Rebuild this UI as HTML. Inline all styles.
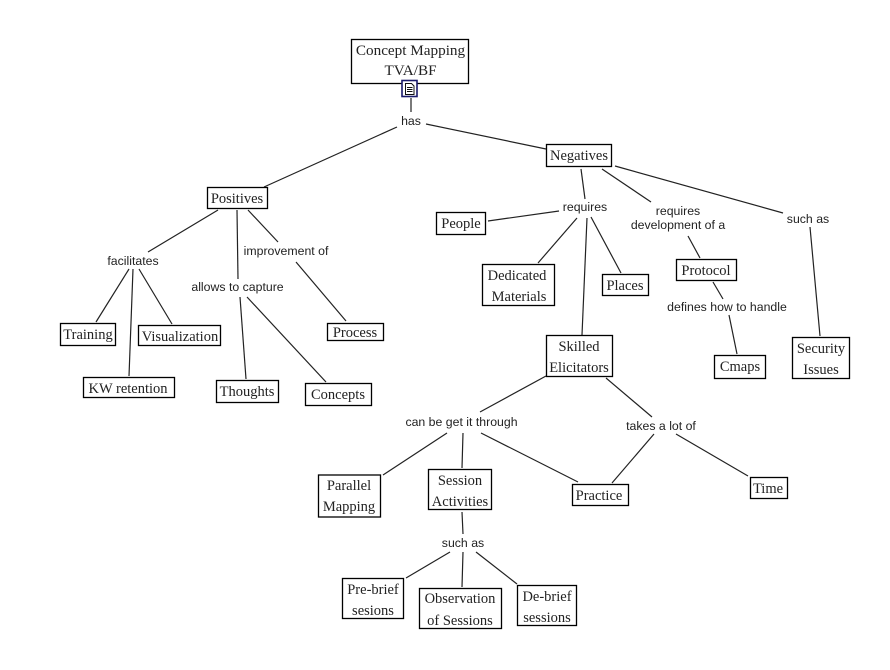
<!DOCTYPE html>
<html><head><meta charset="utf-8"><style>
html,body{margin:0;padding:0;background:#fff}
svg{display:block}
.n{font-family:"Liberation Serif",serif;font-size:14.5px;fill:#222;text-anchor:middle}
.l{font-family:"Liberation Sans",sans-serif;font-size:12.3px;fill:#222;text-anchor:middle}
rect{fill:#fff;stroke:#000;stroke-width:1.3}
line{stroke:#222;stroke-width:1.2}
</style></head><body>
<svg width="890" height="670" viewBox="0 0 890 670" xmlns="http://www.w3.org/2000/svg">
<line x1="411" y1="98" x2="411" y2="112"/>
<line x1="397" y1="127" x2="264" y2="187"/>
<line x1="426" y1="124" x2="546" y2="149"/>
<line x1="218" y1="210" x2="148" y2="252"/>
<line x1="237" y1="210" x2="238" y2="279"/>
<line x1="248" y1="210" x2="278" y2="242"/>
<line x1="296" y1="262" x2="346" y2="321"/>
<line x1="129" y1="269" x2="96" y2="322"/>
<line x1="133" y1="269" x2="129" y2="376"/>
<line x1="139" y1="269" x2="172" y2="324"/>
<line x1="240" y1="297" x2="246" y2="379"/>
<line x1="247" y1="297" x2="326" y2="382"/>
<line x1="581" y1="169" x2="585" y2="199"/>
<line x1="602" y1="169" x2="651" y2="202"/>
<line x1="615" y1="166" x2="783" y2="213"/>
<line x1="559" y1="211" x2="488" y2="221"/>
<line x1="577" y1="218" x2="538" y2="263"/>
<line x1="587" y1="218" x2="582" y2="335"/>
<line x1="591" y1="217" x2="621" y2="273"/>
<line x1="688" y1="236" x2="700" y2="258"/>
<line x1="713" y1="282" x2="723" y2="299"/>
<line x1="729" y1="315" x2="737" y2="354"/>
<line x1="810" y1="227" x2="820" y2="336"/>
<line x1="546" y1="376" x2="480" y2="412"/>
<line x1="606" y1="378" x2="652" y2="417"/>
<line x1="447" y1="433" x2="383" y2="475"/>
<line x1="463" y1="433" x2="462" y2="468"/>
<line x1="481" y1="433" x2="578" y2="482"/>
<line x1="654" y1="434" x2="612" y2="483"/>
<line x1="676" y1="434" x2="748" y2="476"/>
<line x1="462" y1="512" x2="463" y2="534"/>
<line x1="450" y1="552" x2="406" y2="578"/>
<line x1="463" y1="552" x2="462" y2="587"/>
<line x1="476" y1="552" x2="517" y2="584"/>

<rect x="351.5" y="39.5" width="117" height="44"/>
<text class="n" x="410.5" y="55" style="font-size:15.2px">Concept Mapping</text>
<text class="n" x="410.5" y="75" style="font-size:15.2px">TVA/BF</text>
<rect x="402" y="80.5" width="15" height="16" style="stroke:#1a1a6a;stroke-width:1.6"/>
<path d="M405.5 83.5h6l2.5 2.5v8.5h-8.5z M407 87.5h5.5 M407 89.5h5.5 M407 91.5h5.5" fill="none" stroke="#111" stroke-width="1"/>

<rect x="207.5" y="187.5" width="60" height="21"/><text class="n" x="237" y="203">Positives</text>
<rect x="546.5" y="144.5" width="65" height="22"/><text class="n" x="579" y="160">Negatives</text>
<rect x="436.5" y="212.5" width="49" height="22"/><text class="n" x="461" y="228">People</text>
<rect x="482.5" y="264.5" width="72" height="41"/><text class="n" x="517" y="280">Dedicated</text><text class="n" x="519" y="301">Materials</text>
<rect x="602.5" y="274.5" width="46" height="21"/><text class="n" x="625" y="290">Places</text>
<rect x="676.5" y="259.5" width="60" height="21"/><text class="n" x="706" y="275">Protocol</text>
<rect x="714.5" y="355.5" width="51" height="23"/><text class="n" x="740" y="371">Cmaps</text>
<rect x="792.5" y="337.5" width="57" height="41"/><text class="n" x="821" y="353">Security</text><text class="n" x="821" y="374">Issues</text>
<rect x="546.5" y="335.5" width="66" height="41"/><text class="n" x="579" y="351">Skilled</text><text class="n" x="579" y="372">Elicitators</text>
<rect x="60.5" y="323.5" width="55" height="22"/><text class="n" x="88" y="339">Training</text>
<rect x="138.5" y="325.5" width="82" height="20"/><text class="n" x="180" y="341">Visualization</text>
<rect x="83.5" y="377.5" width="91" height="20"/><text class="n" x="128" y="393">KW retention</text>
<rect x="216.5" y="380.5" width="62" height="22"/><text class="n" x="247" y="396">Thoughts</text>
<rect x="305.5" y="383.5" width="66" height="22"/><text class="n" x="338" y="399">Concepts</text>
<rect x="327.5" y="323.5" width="56" height="17"/><text class="n" x="355" y="337">Process</text>
<rect x="318.5" y="475" width="62" height="42"/><text class="n" x="349" y="490">Parallel</text><text class="n" x="349" y="511">Mapping</text>
<rect x="428.5" y="469.5" width="63" height="40"/><text class="n" x="460" y="485">Session</text><text class="n" x="460" y="506">Activities</text>
<rect x="572.5" y="484.5" width="56" height="21"/><text class="n" x="599" y="500">Practice</text>
<rect x="750.5" y="477.5" width="37" height="21"/><text class="n" x="768" y="493">Time</text>
<rect x="342.5" y="578.5" width="61" height="40"/><text class="n" x="373" y="594">Pre-brief</text><text class="n" x="373" y="615">sesions</text>
<rect x="419.5" y="588.5" width="82" height="40"/><text class="n" x="460" y="603">Observation</text><text class="n" x="460" y="625">of Sessions</text>
<rect x="517.5" y="585.5" width="59" height="40"/><text class="n" x="547" y="601">De-brief</text><text class="n" x="547" y="622">sessions</text>

<text class="l" x="411" y="125">has</text>
<text class="l" x="133" y="265">facilitates</text>
<text class="l" x="286" y="255">improvement of</text>
<text class="l" x="237.5" y="291">allows to capture</text>
<text class="l" x="585" y="211">requires</text>
<text class="l" x="678" y="215">requires</text>
<text class="l" x="678" y="229">development of a</text>
<text class="l" x="808" y="223">such as</text>
<text class="l" x="727" y="311">defines how to handle</text>
<text class="l" x="461.5" y="426">can be get it through</text>
<text class="l" x="661" y="430">takes a lot of</text>
<text class="l" x="463" y="547">such as</text>
</svg>
</body></html>
